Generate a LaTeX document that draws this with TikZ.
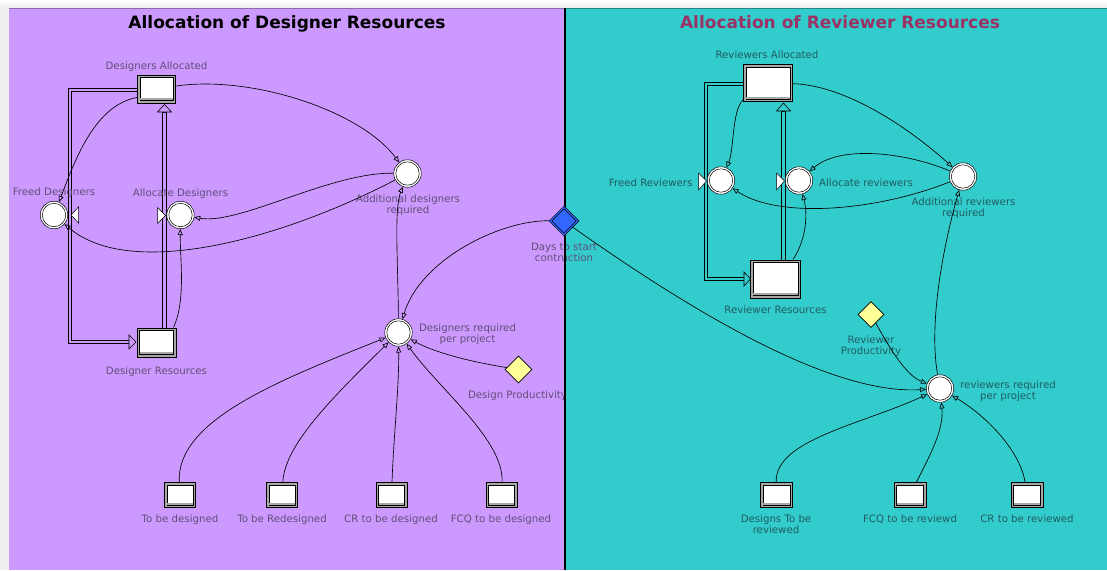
\documentclass[tikz,border=0pt]{standalone}
\usepackage{fontspec}
\setmainfont{DejaVu Sans}
\usetikzlibrary{arrows.meta,shapes.geometric}
\definecolor{lilac}{HTML}{CC99FF}
\definecolor{aqua}{HTML}{33CCCC}
\definecolor{lilacedge}{HTML}{8C6AAA}
\definecolor{aquaedge}{HTML}{258585}
\definecolor{yellowc}{HTML}{FFFF99}
\definecolor{bluec}{HTML}{3366FF}
\definecolor{labL}{RGB}{98,78,120}
\definecolor{labR}{RGB}{32,92,98}
\definecolor{titleR}{HTML}{993366}
\definecolor{margin}{HTML}{EEEEEE}
\definecolor{stockband}{HTML}{A8A8A8}
\newcommand{\lblfont}{\fontsize{10.2}{11}\selectfont}
\newcommand{\ttlfont}{\fontsize{17}{20}\selectfont\bfseries}
\tikzset{
  stock/.style={rectangle, draw=black, line width=0.6pt, fill=stockband, inner sep=0pt,
    path picture={
      \filldraw[fill=white, draw=black, line width=0.5pt]
        ([shift={(2.6pt,2.6pt)}]path picture bounding box.south west) rectangle
        ([shift={(-2.6pt,-2.6pt)}]path picture bounding box.north east);
      \fill[stockband] ([shift={(2.9pt,2.9pt)}]path picture bounding box.south west) rectangle
        ([shift={(-2.9pt,4.8pt)}]path picture bounding box.south east);}},
  conv/.style={circle, draw=black, line width=0.5pt, fill=white, minimum size=27.5pt, inner sep=0pt,
    path picture={\draw[black, line width=0.5pt] (path picture bounding box.center) circle (11.7pt);}},
  constant/.style={diamond, aspect=1, draw=black, line width=0.6pt, fill=yellowc,
    minimum width=27pt, minimum height=27pt, inner sep=0pt},
  conn/.style={draw=black, line width=0.65pt, -{Triangle[open, length=6pt, width=5pt]}},
  pipe/.style={draw=black, line width=0.8pt},
  valve/.style={fill=white, draw=black, line width=0.5pt},
  pipehead/.style={draw=black, line width=0.6pt},
  lblL/.style={font=\lblfont, text=labL, align=center, inner sep=0pt, anchor=base},
  lblR/.style={font=\lblfont, text=labR, align=center, inner sep=0pt, anchor=base},
}
\begin{document}
\begin{tikzpicture}[x=1pt,y=1pt]
\useasboundingbox (0,0) rectangle (1107,-570);

% ---- page and the two panels
\fill[margin] (0,0) rectangle (1107,-570);
\shade[top color=white, bottom color=margin] (0,0) rectangle (1107,-8);
\fill[lilac] (9,-8) rectangle (565,-570);
\fill[aqua] (565,-8) rectangle (1107,-570);
\draw[lilacedge, line width=1pt] (9,-8.5) -- (565,-8.5);
\draw[aquaedge, line width=1pt] (565,-8.5) -- (1107,-8.5);

% ---- titles
\node[font=\ttlfont, text=black, anchor=base, inner sep=0pt] (ttlL) at (287,-28.3) {Allocation of Designer Resources};
\node[font=\ttlfont, text=titleR, anchor=base, inner sep=0pt] (ttlR) at (840,-28.3) {Allocation of Reviewer Resources};

% ================= flows (pipes), drawn under the stocks =================
% each pipe is a narrow band outlined in black
\filldraw[pipe, fill=lilac] (137,-88) -- (68,-88) -- (68,-343.5) -- (130,-343.5)
  -- (130,-340.5) -- (71,-340.5) -- (71,-91) -- (137,-91) -- cycle;
\filldraw[pipe, fill=lilac] (162.8,-112) rectangle (166.2,-329);
\filldraw[pipe, fill=aqua] (744,-82) -- (704,-82) -- (704,-280.5) -- (745,-280.5)
  -- (745,-277.5) -- (707,-277.5) -- (707,-85) -- (744,-85) -- cycle;
\filldraw[pipe, fill=aqua] (781.8,-111) rectangle (785.2,-260);

% ================= designer side =================
% stocks
\node[stock, minimum width=38.4pt, minimum height=28.4pt] (da) at (156.5,-89) {};
\node[stock, minimum width=39.4pt, minimum height=29.4pt] (dr) at (156.5,-342.5) {};
\node[stock, minimum width=31.4pt, minimum height=25.4pt] (tbd) at (180,-495) {};
\node[stock, minimum width=31.4pt, minimum height=25.4pt] (tbr) at (282,-495) {};
\node[stock, minimum width=31.4pt, minimum height=25.4pt] (crd) at (391.5,-495) {};
\node[stock, minimum width=31.4pt, minimum height=25.4pt] (fcqd) at (501.5,-495) {};
% converters
\node[conv] (fd) at (54,-215) {};
\node[conv] (ad) at (180.5,-215) {};
\node[conv] (adr) at (407.5,-173.5) {};
\node[conv] (dpp) at (398.5,-332.5) {};
\node[constant] (dp) at (518.5,-369.5) {};

% labels
\node[lblL] (da-l) at (156.5,-69.5) {Designers Allocated};
\node[lblL] (fd-l) at (54,-195.5) {Freed Designers};
\node[lblL] (ad-l) at (180.5,-196.5) {Allocate Designers};
\node[lblL] (adr-l) at (408,-213.5) {Additional designers\\required};
\node[lblL] (dpp-l) at (467.5,-342.5) {Designers required\\per project};
\node[lblL] (dr-l) at (156.5,-374.5) {Designer Resources};
\node[lblL] (dp-l) at (517.5,-398.5) {Design Productivity};
\node[lblL] (tbd-l) at (180,-522.5) {To be designed};
\node[lblL] (tbr-l) at (282,-522.5) {To be Redesigned};
\node[lblL] (crd-l) at (391,-522.5) {CR to be designed};
\node[lblL] (fcqd-l) at (501,-522.5) {FCQ to be designed};
\node[lblL] (days-l) at (564,-261.5) {Days to start\\contruction};

% ================= reviewer side =================
\node[stock, minimum width=49.4pt, minimum height=37.4pt] (ra) at (768,-83) {};
\node[stock, minimum width=50.4pt, minimum height=38.4pt] (rr) at (775.5,-279) {};
\node[stock, minimum width=32.4pt, minimum height=25.4pt] (dtr) at (776.5,-495) {};
\node[stock, minimum width=32.4pt, minimum height=25.4pt] (fcqr) at (910,-495) {};
\node[stock, minimum width=32.4pt, minimum height=25.4pt] (crr) at (1027,-495) {};
\node[conv] (fr) at (721,-180.5) {};
\node[conv] (ar) at (799,-180.5) {};
\node[conv] (ard) at (963,-176.5) {};
\node[conv] (rrp) at (940,-388.5) {};
\node[constant, minimum width=26pt, minimum height=26pt] (rp) at (871,-314.5) {};

\node[lblR] (ra-l) at (767,-58.3) {Reviewers Allocated};
\node[lblR] (fr-l) at (650.7,-186.3) {Freed Reviewers};
\node[lblR] (ar-l) at (866,-186.3) {Allocate reviewers};
\node[lblR] (ard-l) at (963.5,-216.5) {Additional reviewers\\required};
\node[lblR] (rr-l) at (775.5,-313.3) {Reviewer Resources};
\node[lblR] (rp-l) at (871,-354.5) {Reviewer\\Productivity};
\node[lblR] (rrp-l) at (1008,-399.3) {reviewers required\\per project};
\node[lblR] (dtr-l) at (776,-533.5) {Designs To be\\reviewed};
\node[lblR] (fcqr-l) at (910,-522.5) {FCQ to be reviewd};
\node[lblR] (crr-l) at (1027,-522.5) {CR to be reviewed};

% ---- divider between the panels and the shared constant on it
\draw[black, line width=1.6pt] (565,-8) -- (565,-570);
\node[diamond, aspect=1, draw=black, line width=0.5pt, fill=bluec,
  minimum width=30pt, minimum height=30pt, inner sep=0pt,
  path picture={\draw[black, line width=0.5pt]
    ([yshift=-2.6pt]path picture bounding box.north) -- ([xshift=-2.6pt]path picture bounding box.east)
    -- ([yshift=2.6pt]path picture bounding box.south) -- ([xshift=2.6pt]path picture bounding box.west)
    -- cycle;}] (days) at (564,-221) {};

% ---- pipe heads and valves
\filldraw[pipehead, fill=lilac] (129,-335) -- (136,-342) -- (129,-349) -- cycle;
\filldraw[pipehead, fill=lilac] (157.5,-112) -- (164.5,-104.5) -- (171.5,-112) -- cycle;
\filldraw[valve] (71,-215) -- (78.5,-207) -- (78.5,-223) -- cycle;
\filldraw[valve] (165.5,-215.5) -- (157.5,-207.5) -- (157.5,-223.5) -- cycle;
\filldraw[pipehead, fill=aqua] (744,-272) -- (750.5,-279) -- (744,-286) -- cycle;
\filldraw[pipehead, fill=aqua] (776.5,-111) -- (783.5,-103) -- (790.5,-111) -- cycle;
\filldraw[valve] (706.5,-181) -- (698.5,-173) -- (698.5,-190) -- cycle;
\filldraw[valve] (784.5,-181) -- (776.5,-173) -- (776.5,-190) -- cycle;

% ================= connectors =================
% designer side
\draw[conn] ([yshift=6pt]da.south west) .. controls (95,-105) and (75,-160) .. (fd);
\draw[conn] (da) .. controls (250,-75) and (360,-110) .. (adr);
\draw[conn] (adr) .. controls (330,-172) and (240,-225) .. (ad);
\draw[conn] (adr) .. controls (280,-240) and (130,-280) .. (fd);
\draw[conn] ([xshift=-3pt]dr.north east) .. controls (186,-300) and (180,-260) .. (ad);
\draw[conn] (dpp) .. controls (398,-260) and (394,-210) .. (adr);
\draw[conn] (days) .. controls (500,-220) and (420,-260) .. (dpp);
\draw[conn] (tbd) .. controls (176,-420) and (280,-380) .. (dpp);
\draw[conn] (tbr) .. controls (285,-445) and (330,-400) .. (dpp);
\draw[conn] (crd) .. controls (394,-430) and (399,-390) .. (dpp);
\draw[conn] (fcqd) .. controls (504,-440) and (440,-390) .. (dpp);
\draw[conn] (dp) .. controls (460,-360) and (430,-350) .. (dpp);

% reviewer side
\draw[conn] ([yshift=2pt]ra.south west) .. controls (732,-110) and (734,-150) .. (fr);
\draw[conn] (ra) .. controls (840,-85) and (900,-120) .. (ard);
\draw[conn] (ard) .. controls (905,-152) and (840,-145) .. (ar);
\draw[conn] (ard) .. controls (880,-210) and (780,-220) .. (fr);
\draw[conn] ([xshift=-8pt]rr.north east) .. controls (806,-240) and (808,-215) .. (ar);
\draw[conn] (rrp) .. controls (928,-320) and (945,-240) .. (ard);
\draw[conn] (days) .. controls (690,-310) and (830,-395) .. (rrp);
\draw[conn] (rp) .. controls (888,-345) and (905,-375) .. (rrp);
\draw[conn] (dtr) .. controls (775,-440) and (860,-425) .. (rrp);
\draw[conn] (fcqr) .. controls (930,-455) and (944,-430) .. (rrp);
\draw[conn] (crr) .. controls (1020,-450) and (985,-415) .. (rrp);
\end{tikzpicture}
\end{document}
